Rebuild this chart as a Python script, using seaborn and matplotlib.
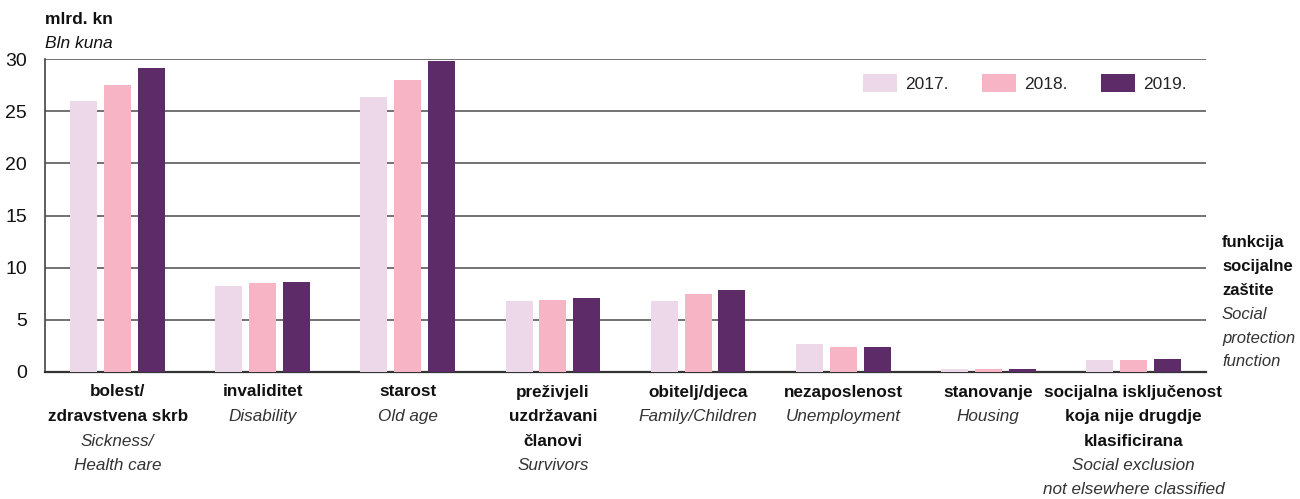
import pandas as pd
import matplotlib.pyplot as plt
import seaborn as sns

# Social protection expenditure by function, bln kuna
categories_hr = [
    ['bolest/', 'zdravstvena skrb'],
    ['invaliditet'],
    ['starost'],
    ['preživjeli', 'uzdržavani', 'članovi'],
    ['obitelj/djeca'],
    ['nezaposlenost'],
    ['stanovanje'],
    ['socijalna isključenost', 'koja nije drugdje', 'klasificirana'],
]
categories_en = [
    ['Sickness/', 'Health care'],
    ['Disability'],
    ['Old age'],
    ['Survivors'],
    ['Family/Children'],
    ['Unemployment'],
    ['Housing'],
    ['Social exclusion', 'not elsewhere classified'],
]
years = ['2017.', '2018.', '2019.']
v2017 = [26.0, 8.25, 26.4, 6.8, 6.8, 2.7, 0.25, 1.15]
v2018 = [27.5, 8.5, 28.0, 6.9, 7.5, 2.35, 0.25, 1.15]
v2019 = [29.1, 8.6, 29.8, 7.1, 7.9, 2.35, 0.3, 1.25]
colors = ['#ECD8E8', '#F7B4C4', '#5E2B69']

cat_keys = [' '.join(c) for c in categories_hr]
df = pd.DataFrame({
    'cat': cat_keys * 3,
    'year': [years[0]] * 8 + [years[1]] * 8 + [years[2]] * 8,
    'value': v2017 + v2018 + v2019,
})

sns.set_style('white')
plt.rcParams['font.family'] = ['Liberation Sans Narrow', 'Liberation Sans', 'DejaVu Sans']

fig = plt.figure(figsize=(13, 4.99), dpi=100)
ax = fig.add_axes([45 / 1300, 1 - 372 / 499, (1206 - 45) / 1300, (372 - 59) / 499])

sns.barplot(data=df, x='cat', y='value', hue='year', palette=colors,
            width=0.7, gap=0.2, saturation=1, ax=ax, zorder=3, linewidth=0)

ax.set_xlim(-0.5, 7.5)
ax.set_ylim(0, 30)
ax.set_yticks([0, 5, 10, 15, 20, 25, 30])
ax.yaxis.grid(True, color='#5a5a5a', lw=1.2, zorder=0)
ax.set_axisbelow(True)
ax.tick_params(axis='y', length=0, pad=13, labelsize=14, labelcolor='#111111')
ax.set_xticks(range(8))
ax.set_xticklabels([])
ax.tick_params(axis='x', length=0)
ax.set_xlabel('')
ax.set_ylabel('')
for s in ['top', 'right']:
    ax.spines[s].set_visible(False)
ax.spines['left'].set_color('#444444')
ax.spines['left'].set_linewidth(1.2)
ax.spines['bottom'].set_color('#333333')
ax.spines['bottom'].set_linewidth(1.6)

# category labels below the axis
for i, (hr, en) in enumerate(zip(categories_hr, categories_en)):
    lines = [(t, 'bold', 'normal', '#111111') for t in hr] + \
            [(t, 'normal', 'italic', '#333333') for t in en]
    for k, (t, w, st, c) in enumerate(lines):
        ax.annotate(t, xy=(i, 0), xycoords=('data', 'axes fraction'),
                    xytext=(0, -(20 + 24.5 * k) * 0.72), textcoords='offset points',
                    ha='center', va='center', fontsize=12.3, fontweight=w,
                    fontstyle=st, color=c)

# unit label
fig.text(45 / 1300, 1 - 20 / 499, 'mlrd. kn', fontsize=12.5, fontweight='bold',
         ha='left', va='center', color='#111111')
fig.text(45 / 1300, 1 - 43 / 499, 'Bln kuna', fontsize=12.5, fontstyle='italic',
         ha='left', va='center', color='#111111')

# axis title on the right
right = [('funkcija', 'bold', 'normal'), ('socijalne', 'bold', 'normal'),
         ('zaštite', 'bold', 'normal'), ('Social', 'normal', 'italic'),
         ('protection', 'normal', 'italic'), ('function', 'normal', 'italic')]
for k, (t, w, st) in enumerate(right):
    fig.text(1222 / 1300, 1 - (243 + 23.8 * k) / 499, t, fontsize=12,
             fontweight=w, fontstyle=st, ha='left', va='center',
             color='#111111' if w == 'bold' else '#333333')

ax.legend(title=None, ncol=3, frameon=False, loc='center right',
          bbox_to_anchor=(0.997, 0.923), fontsize=12.5, handlelength=2.0,
          handleheight=1.15, columnspacing=1.9, handletextpad=0.45)

fig.savefig('out.png', dpi=100)
